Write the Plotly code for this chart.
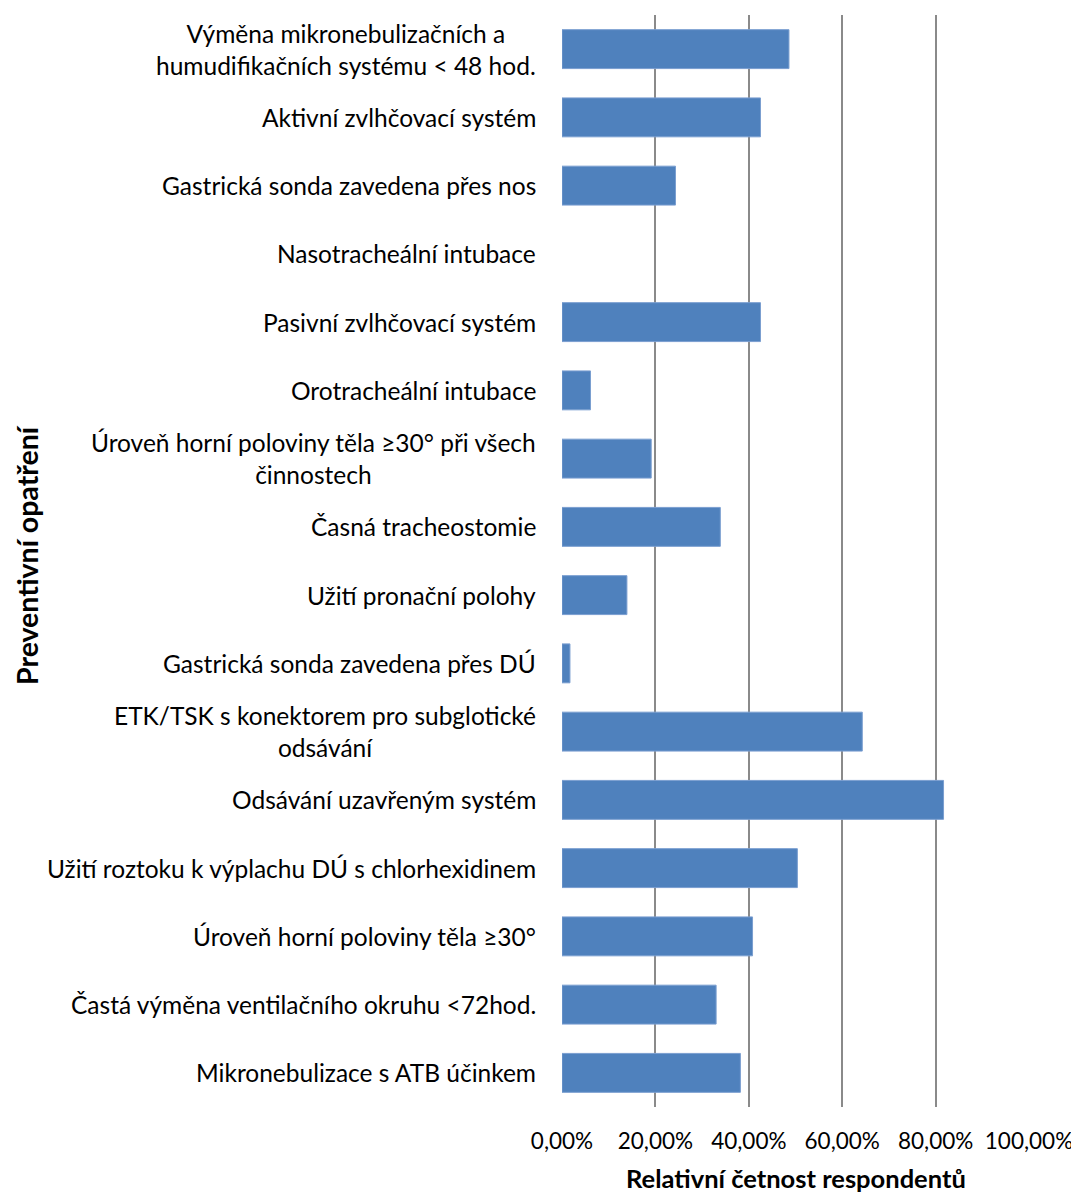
import plotly.graph_objects as go

categories = [
    "Výměna mikronebulizačních a<br>humudifikačních systému < 48 hod.",
    "Aktivní zvlhčovací systém",
    "Gastrická sonda zavedena přes nos",
    "Nasotracheální intubace",
    "Pasivní zvlhčovací systém",
    "Orotracheální intubace",
    "Úroveň horní poloviny těla ≥30° při všech<br>činnostech",
    "Časná tracheostomie",
    "Užití pronační polohy",
    "Gastrická sonda zavedena přes DÚ",
    "ETK/TSK s konektorem pro subglotické<br>odsávání",
    "Odsávání uzavřeným systém",
    "Užití roztoku k výplachu DÚ s chlorhexidinem",
    "Úroveň horní poloviny těla ≥30°",
    "Častá výměna ventilačního okruhu <72hod.",
    "Mikronebulizace s ATB účinkem",
]
values = [0.486, 0.425, 0.243, 0.0, 0.425, 0.061, 0.191, 0.339,
          0.139, 0.017, 0.643, 0.817, 0.504, 0.408, 0.330, 0.382]
x_ticks = [0, 0.2, 0.4, 0.6, 0.8, 1.0]

FONT = "Lato"
LABEL_SIZE = 24.5
TITLE_SIZE = 25.5

fig = go.Figure()
fig.add_trace(go.Bar(
    y=categories, x=values, orientation="h",
    marker=dict(color="#4F81BD",
                line=dict(color="#7A9ED0", width=[1 if v > 0 else 0 for v in values])),
    hoverinfo="x+y",
))

for c in categories:
    fig.add_annotation(
        x=0, xref="paper", y=c, yref="y", text=c,
        xanchor="right", yanchor="middle", align="center", xshift=-24,
        showarrow=False, font=dict(family=FONT, size=LABEL_SIZE, color="#000000"),
    )

# axis titles
fig.add_annotation(
    x=0.5, xref="paper", y=0, yref="paper", yshift=-71,
    text="<b>Relativní četnost respondentů</b>", showarrow=False,
    xanchor="center", yanchor="middle",
    font=dict(family=FONT, size=TITLE_SIZE, color="#000000"),
)
fig.add_annotation(
    x=0, xref="paper", y=0.5, yref="paper", xshift=-535, yshift=6,
    text="<b>Preventivní opatření</b>", textangle=-90, showarrow=False,
    xanchor="center", yanchor="middle",
    font=dict(family=FONT, size=28.5, color="#000000"),
)

# page body has an 8px margin: compensate so the plot lands where the reference has it
fig.update_layout(
    width=1071, height=1188,
    margin=dict(l=554, r=50, t=7, b=89, autoexpand=False),
    plot_bgcolor="white", paper_bgcolor="white",
    separators=", ",
    bargap=0.43,
    showlegend=False,
    font=dict(family=FONT, color="#000000"),
    xaxis=dict(
        range=[0, 1], tickvals=x_ticks, tickformat=".2%",
        showgrid=True, gridcolor="#8A8A8A", gridwidth=2,
        zeroline=False, showline=False, ticks="",
        tickfont=dict(family=FONT, size=22.5, color="#000000"),
        ticklabelstandoff=18,
    ),
    yaxis=dict(
        categoryorder="array", categoryarray=categories, autorange="reversed",
        showticklabels=False, showgrid=False, zeroline=False, showline=False, ticks="",
    ),
)
fig.write_html("out.html")
